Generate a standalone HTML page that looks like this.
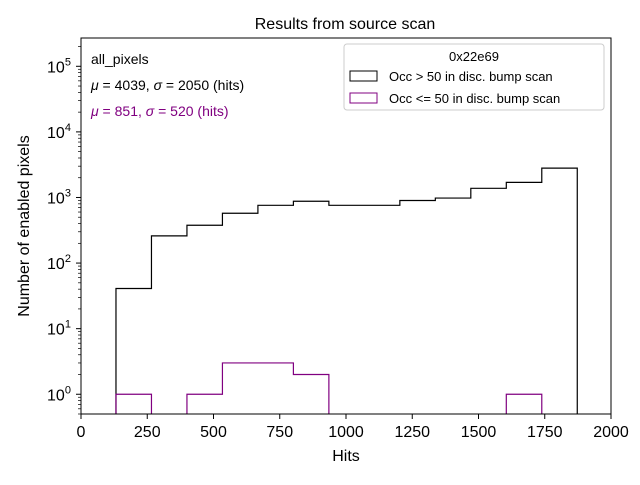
<!DOCTYPE html>
<html><head><meta charset="utf-8"><style>
body{margin:0;background:#fff;font-family:"Liberation Sans","DejaVu Sans",sans-serif}
svg text{font-family:"Liberation Sans","DejaVu Sans",sans-serif}
</style></head><body>
<svg id="chart" width="640" height="480">
<text x="345" y="29" font-size="16" text-anchor="middle">Results from source scan</text>
<g id="ticks"></g>
<g id="marks"></g>
<rect x="81" y="38" width="530" height="376" fill="none" stroke="#000" stroke-width="1"/>
<text x="346" y="461" font-size="16" text-anchor="middle">Hits</text>
<text transform="translate(29,226) rotate(-90)" font-size="16" text-anchor="middle">Number of enabled pixels</text>
<text x="91" y="64" font-size="14">all_pixels</text>
<text x="91" y="90" font-size="14"><tspan font-style="italic">μ</tspan> = 4039, <tspan font-style="italic">σ</tspan> = 2050 (hits)</text>
<text x="91" y="116" font-size="14" fill="#800080"><tspan font-style="italic">μ</tspan> = 851, <tspan font-style="italic">σ</tspan> = 520 (hits)</text>
<g>
<rect x="344" y="44" width="260" height="66" rx="3" fill="#fff" fill-opacity="0.8" stroke="#ccc"/>
<text x="474" y="61" font-size="13" text-anchor="middle">0x22e69</text>
<rect x="350" y="71" width="27" height="10" fill="none" stroke="#000"/>
<text x="389" y="81" font-size="13">Occ &gt; 50 in disc. bump scan</text>
<rect x="350" y="93" width="27" height="10" fill="none" stroke="#800080"/>
<text x="389" y="103" font-size="13">Occ &lt;= 50 in disc. bump scan</text>
</g>
</svg>
<script>
const binStart = 132;
const binWidth = 133.9;
const highCounts = [41, 260, 377, 575, 760, 875, 760, 760, 900, 980, 1380, 1700, 2800, 0];
const lowCounts = [1, 0, 1, 3, 3, 2, 0, 0, 0, 0, 0, 1, 0, 0];
const xTicks = [0, 250, 500, 750, 1000, 1250, 1500, 1750, 2000];
const yTickExps = [0, 1, 2, 3, 4, 5];
const NS = "http://www.w3.org/2000/svg";
const X0=81, X1=611, Y0=414, Y1=38, XMIN=0, XMAX=2000, LMIN=Math.log10(0.5), LMAX=Math.log10(2.7e5);
const xs = v => X0 + (v-XMIN)/(XMAX-XMIN)*(X1-X0);
const ys = v => v<=0 ? Y0 : Y0 - (Math.log10(v)-LMIN)/(LMAX-LMIN)*(Y0-Y1);
const ticks = document.getElementById('ticks'), marks = document.getElementById('marks');
function mk(tag, attrs, parent){const e=document.createElementNS(NS,tag);for(const k in attrs)e.setAttribute(k,attrs[k]);parent.appendChild(e);return e;}
xTicks.forEach(t=>{
  const l=mk('line',{x1:xs(t),x2:xs(t),y1:Y0,y2:Y0+5,stroke:'#000'},ticks);
  
  
  const tx=mk('text',{x:xs(t),y:Y0+23,'font-size':16,'text-anchor':'middle'},ticks);
  tx.textContent=t;
  
  
});
yTickExps.forEach(e=>{
  const y=ys(Math.pow(10,e));
  const l=mk('line',{x1:X0-5,x2:X0,y1:y,y2:y,stroke:'#000'},ticks);
  
  
  const tx=mk('text',{x:X0-22,y:y+6,'font-size':16,'text-anchor':'middle'},ticks);
  tx.innerHTML='10<tspan dy="-7" font-size="11">'+e+'</tspan>';
  
  
  for(let m=2;m<10;m++){
    const v=m*Math.pow(10,e-1);
    if(v<0.5)continue;
    const yy=ys(v);
    if(yy<Y1)continue;
    const ml=mk('line',{x1:X0-3,x2:X0,y1:yy,y2:yy,stroke:'#000','stroke-width':0.7},ticks);
    
    
  }
  for(let m=2;m<10;m++){
    const v=m*Math.pow(10,e);
    const yy=ys(v);
    if(yy<Y1||e<5)continue;
    const ml=mk('line',{x1:X0-3,x2:X0,y1:yy,y2:yy,stroke:'#000','stroke-width':0.7},ticks);
    
    
  }
});
function stepPath(counts){
  let d='', pen=false;
  counts.forEach((c,i)=>{
    const a=xs(binStart+i*binWidth), b=xs(binStart+(i+1)*binWidth);
    if(c>0){
      const y=ys(c);
      if(!pen){d+=`M${a},${Y0}`;pen=true;}
      d+=`L${a},${y}L${b},${y}`;
    } else if(pen){d+=`L${a},${Y0}`;pen=false;}
  });
  if(pen){d+=`L${xs(binStart+counts.length*binWidth)},${Y0}`;}
  return d;
}
const ph=mk('path',{d:stepPath(highCounts),fill:'none',stroke:'#000','stroke-width':1.2},marks);


const pl=mk('path',{d:stepPath(lowCounts),fill:'none',stroke:'#800080','stroke-width':1.2},marks);


</script>
</body></html>
